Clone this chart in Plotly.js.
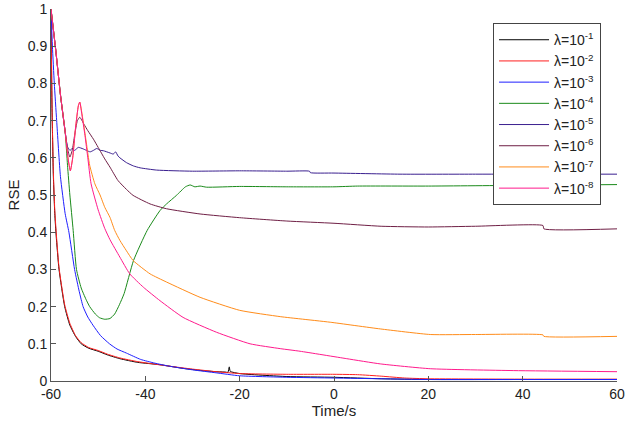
<!DOCTYPE html>
<html>
<head>
<meta charset="utf-8">
<script src="https://cdn.plot.ly/plotly-3.0.1.min.js"></script>
<style>html,body{margin:0;padding:0;background:#fff}#chart{width:630px;height:426px}</style>
</head>
<body>
<div id="chart"></div>
<script>
// Legend labels
const labels = ["λ=10<sup>-1</sup>","λ=10<sup>-2</sup>","λ=10<sup>-3</sup>","λ=10<sup>-4</sup>","λ=10<sup>-5</sup>","λ=10<sup>-6</sup>","λ=10<sup>-7</sup>","λ=10<sup>-8</sup>"];
const colors = ["#000000","#FF1F1F","#1F1FFF","#1A8A1A","#3A1F8F","#6F1F45","#FF8C1A","#FF1A8C"];

// λ=1e-1 (black)
const t1 = [-60,-59.8,-59.5,-59.2,-58.9,-58.3,-57.1,-56,-54.8,-53.6,-52,-50,-48,-45.4,-41.6,-37,-32,-28,-25,-23,-22.5,-22.2,-22,-20,-10,0,10,20,40,60];
const v1 = [1,0.75,0.55,0.45,0.39,0.3,0.2,0.15,0.12,0.1,0.088,0.08,0.07,0.06,0.05,0.044,0.034,0.028,0.025,0.024,0.023,0.038,0.026,0.02,0.012,0.01,0.006,0.004,0.004,0.004];
// λ=1e-2 (red)
const t2 = [-60,-59.8,-59.5,-59.2,-58.9,-58.3,-57.1,-56,-54.8,-53.6,-52,-50,-48,-45.4,-41.6,-35,-30,-25,-20,-10,0,5,10,15,20,40,60];
const v2 = [1,0.75,0.56,0.46,0.4,0.305,0.205,0.155,0.122,0.103,0.09,0.082,0.072,0.062,0.052,0.04,0.032,0.025,0.02,0.018,0.018,0.017,0.013,0.008,0.006,0.005,0.005];
// λ=1e-3 (blue)
const t3 = [-60,-59.7,-59.3,-58.8,-58,-57,-56.2,-55,-54,-53.2,-52.2,-51.1,-49.5,-47.6,-46,-44,-41,-38,-35,-30,-25,-20,-10,0,10,20,40,60];
const v3 = [1,0.9,0.8,0.7,0.55,0.45,0.4,0.3,0.24,0.2,0.172,0.15,0.122,0.1,0.086,0.075,0.058,0.048,0.04,0.03,0.022,0.014,0.01,0.008,0.006,0.004,0.004,0.004];
// λ=1e-4 (green)
const t4 = [-60,-59,-58,-57,-56.5,-56,-55.3,-54.6,-53.6,-52.6,-51.8,-50.6,-49.7,-48.6,-47.5,-46.5,-45.5,-44.5,-42.5,-39.6,-36.9,-35.5,-33.4,-31.5,-30.5,-29.5,-28.4,-27,-20,-10,0,5,20,40,60];
const v4 = [1,0.89,0.77,0.67,0.58,0.5,0.405,0.3,0.25,0.22,0.2,0.18,0.17,0.166,0.168,0.18,0.205,0.235,0.324,0.405,0.458,0.476,0.499,0.522,0.527,0.522,0.524,0.521,0.523,0.522,0.522,0.524,0.524,0.526,0.528];
// λ=1e-5 (purple)
const t5 = [-60,-59,-58,-57,-56.5,-56,-55.5,-55,-54.2,-53.2,-52.5,-51.7,-51,-50.3,-49.5,-48.9,-47.5,-46.8,-46.3,-45.8,-45.4,-44,-42.5,-41.1,-37.6,-30,-20,-10,-5.2,-5,0,14,30,60];
const v5 = [1,0.89,0.77,0.67,0.63,0.62,0.625,0.62,0.628,0.624,0.62,0.616,0.62,0.625,0.62,0.619,0.613,0.61,0.616,0.605,0.6,0.587,0.578,0.573,0.567,0.564,0.565,0.564,0.564,0.56,0.559,0.556,0.556,0.556];
// λ=1e-6 (maroon)
const t6 = [-60,-59,-58,-57,-56.5,-56,-55.5,-55,-54.4,-53.9,-53,-52.2,-51,-50,-48.6,-47.5,-45.8,-44,-42.6,-39,-35.5,-28.4,-20,-10,0,10,20,30,44.3,44.5,60];
const v6 = [1,0.89,0.77,0.67,0.625,0.602,0.62,0.66,0.7,0.709,0.69,0.673,0.65,0.628,0.597,0.575,0.539,0.515,0.499,0.476,0.463,0.449,0.439,0.43,0.424,0.416,0.414,0.416,0.418,0.409,0.409];
// λ=1e-7 (orange)
const t7 = [-60,-59,-58,-57,-56.4,-55.9,-55.4,-54.8,-54.2,-53.9,-53.2,-52.5,-51.8,-50.7,-49.6,-48.6,-47.5,-46.5,-45.4,-44,-42.6,-39,-35.5,-28.4,-20,-11.4,-7.2,-0.8,9.8,20.4,30,44.3,44.5,60];
const v7 = [1,0.89,0.77,0.67,0.6,0.565,0.6,0.68,0.74,0.75,0.7,0.64,0.58,0.53,0.5,0.467,0.44,0.405,0.378,0.35,0.324,0.288,0.266,0.225,0.19,0.173,0.167,0.158,0.14,0.125,0.125,0.124,0.12,0.12];
// λ=1e-8 (pink)
const t8 = [-60,-59,-58,-57,-56.4,-55.9,-55.4,-54.8,-54.2,-53.9,-53.5,-52.8,-52.2,-51.5,-50,-48.6,-47.5,-45.4,-43.3,-40.4,-36.9,-32,-24.9,-17.8,-11.4,-7.2,2.7,9.8,20.4,38,60];
const v8 = [1,0.89,0.77,0.67,0.6,0.565,0.6,0.68,0.74,0.75,0.72,0.66,0.6,0.53,0.46,0.41,0.38,0.333,0.288,0.252,0.216,0.171,0.131,0.1,0.087,0.08,0.06,0.046,0.033,0.028,0.025];

const xs = [t1,t2,t3,t4,t5,t6,t7,t8];
const ys = [v1,v2,v3,v4,v5,v6,v7,v8];
const xTicks = [-60,-40,-20,0,20,40,60];
const yTicks = [0,0.1,0.2,0.3,0.4,0.5,0.6,0.7,0.8,0.9,1];

const traces = xs.map((x,i)=>({
  x: x, y: ys[i], type:'scatter', mode:'lines', name: labels[i],
  line:{color: colors[i], width:1, shape:'spline', smoothing:0.5}
}));

const axisCommon = {
  showgrid:false, zeroline:false, showline:true, linecolor:'#555', linewidth:1,
  ticks:'inside', ticklen:5, tickcolor:'#555', mirror:false,
  ticklabeloverflow:'allow',
  tickfont:{family:'Liberation Sans, Arial, sans-serif', size:14, color:'#222'}
};

const layout = {
  width:630, height:426,
  margin:{l:51, r:13, t:9, b:45},
  paper_bgcolor:'#fff', plot_bgcolor:'#fff',
  font:{family:'Liberation Sans, Arial, sans-serif', color:'#222'},
  xaxis: Object.assign({}, axisCommon, {
    range:[-60,60], tickvals:xTicks, ticktext:xTicks.map(String),
    title:{text:'Time/s', font:{size:15, color:'#222'}, standoff:4}
  }),
  yaxis: Object.assign({}, axisCommon, {
    range:[0,1], tickvals:yTicks, ticktext:yTicks.map(String),
    title:{text:'RSE', font:{size:15, color:'#222'}, standoff:4}
  }),
  showlegend:true,
  legend:{
    x:0.781, y:0.962, xanchor:'left', yanchor:'top',
    bgcolor:'#fff', bordercolor:'#444', borderwidth:1,
    font:{family:'Liberation Sans, Arial, sans-serif', size:14, color:'#222'},
    tracegroupgap:0, itemwidth:50
  }
};

Plotly.newPlot('chart', traces, layout, {displayModeBar:false, staticPlot:true});
</script>
</body>
</html>
